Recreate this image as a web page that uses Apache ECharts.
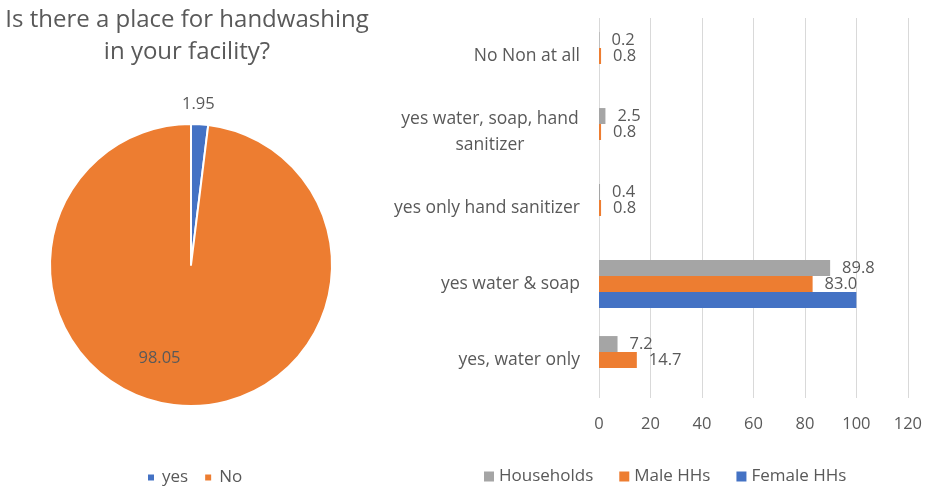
<!DOCTYPE html>
<html>
<head>
<meta charset="utf-8">
<script src="https://cdn.jsdelivr.net/npm/echarts@6/dist/echarts.min.js"></script>
<style>
  html, body { margin: 0; padding: 0; background: #ffffff; }
  #chart { width: 925px; height: 487px; }
</style>
</head>
<body>
<div id="chart"></div>
<script>
// Pie: share of facilities with a handwashing place
const pieTitle = 'Is there a place for handwashing\nin your facility?';
const pieNames = ['yes', 'No'];
const pieValues = [1.95, 98.05];

// Bars: type of handwashing facility, by household group (top to bottom)
const categories = [
  'No Non at all',
  'yes water, soap, hand\nsanitizer',
  'yes only hand sanitizer',
  'yes water & soap',
  'yes, water only'
];
const seriesNames = ['Households', 'Male HHs', 'Female HHs'];
const households = [0.2, 2.5, 0.4, 89.8, 7.2];
const maleHHs = [0.8, 0.8, 0.8, 83.0, 14.7];
const femaleHHs = [0, 0, 0, 100, 0];
const xTicks = [0, 20, 40, 60, 80, 100, 120];

const textColor = '#595959';
const font = '"Open Sans", "Noto Sans", sans-serif';
const colors = { blue: '#4472C4', orange: '#ED7D31', gray: '#A5A5A5' };

const chart = echarts.init(document.getElementById('chart'), null, { renderer: 'canvas' });

const barLabel = {
  show: true,
  position: 'right',
  distance: 12,
  color: textColor,
  fontFamily: font,
  fontSize: 16.5,
  formatter: p => p.value.toFixed(1)
};

chart.setOption({
  animation: false,
  backgroundColor: '#ffffff',
  textStyle: { fontFamily: font, color: textColor },
  title: {
    text: pieTitle,
    left: 187,
    top: 4,
    padding: 0,
    textAlign: 'center',
    textStyle: { fontFamily: font, fontSize: 24, fontWeight: 'normal', color: textColor, lineHeight: 32 }
  },
  legend: [
    {
      data: pieNames,
      left: 141,
      top: 464,
      itemWidth: 8,
      itemHeight: 8,
      itemGap: 15,
      icon: 'rect',
      textStyle: { fontFamily: font, fontSize: 17, color: textColor, padding: [0, 0, 0, 2] }
    },
    {
      data: seriesNames,
      left: 479,
      top: 463,
      itemWidth: 10,
      itemHeight: 10,
      itemGap: 26,
      icon: 'rect',
      textStyle: { fontFamily: font, fontSize: 17, color: textColor }
    }
  ],
  grid: { left: 599, right: 16, top: 18, bottom: 89 },
  xAxis: {
    type: 'value',
    min: xTicks[0],
    max: xTicks[xTicks.length - 1],
    interval: xTicks[1] - xTicks[0],
    axisLine: { show: false },
    axisTick: { show: false },
    splitLine: { lineStyle: { color: '#d9d9d9', width: 1 } },
    axisLabel: { color: textColor, fontFamily: font, fontSize: 16.5, margin: 18 }
  },
  yAxis: {
    type: 'category',
    inverse: true,
    data: categories,
    axisLine: { show: false },
    axisTick: { show: false },
    axisLabel: {
      color: textColor,
      fontFamily: font,
      fontSize: 17.5,
      margin: 19,
      lineHeight: 26,
      formatter: v => v.indexOf('\n') >= 0
        ? v.split('\n').map(s => '{c|' + s + '}').join('\n')
        : v,
      rich: {
        c: { width: 180, align: 'center', fontSize: 17.5, color: textColor, fontFamily: font, lineHeight: 26 }
      }
    }
  },
  series: [
    {
      type: 'pie',
      name: 'handwashing',
      center: [191, 265],
      radius: 141,
      startAngle: 90,
      clockwise: true,
      itemStyle: { borderColor: '#ffffff', borderWidth: 2 },
      data: pieNames.map((n, i) => ({
        name: n,
        value: pieValues[i],
        itemStyle: { color: i === 0 ? colors.blue : colors.orange },
        label: i === 0
          ? { position: 'outside', offset: [-23, -14] }
          : { position: 'inside', offset: [-27, 20] }
      })),
      label: {
        show: true,
        color: textColor,
        fontFamily: font,
        fontSize: 16.5,
        formatter: p => p.value.toFixed(2)
      },
      labelLine: { show: false, length: 6, length2: 0 }
    },
    {
      type: 'bar',
      name: seriesNames[0],
      data: households,
      itemStyle: { color: colors.gray },
      barGap: '0%',
      barCategoryGap: '37%',
      label: barLabel
    },
    {
      type: 'bar',
      name: seriesNames[1],
      data: maleHHs,
      itemStyle: { color: colors.orange },
      barGap: '0%',
      barCategoryGap: '37%',
      label: barLabel
    },
    {
      type: 'bar',
      name: seriesNames[2],
      data: femaleHHs,
      itemStyle: { color: colors.blue },
      barGap: '0%',
      barCategoryGap: '37%',
      label: { show: false }
    }
  ]
});
</script>
</body>
</html>
